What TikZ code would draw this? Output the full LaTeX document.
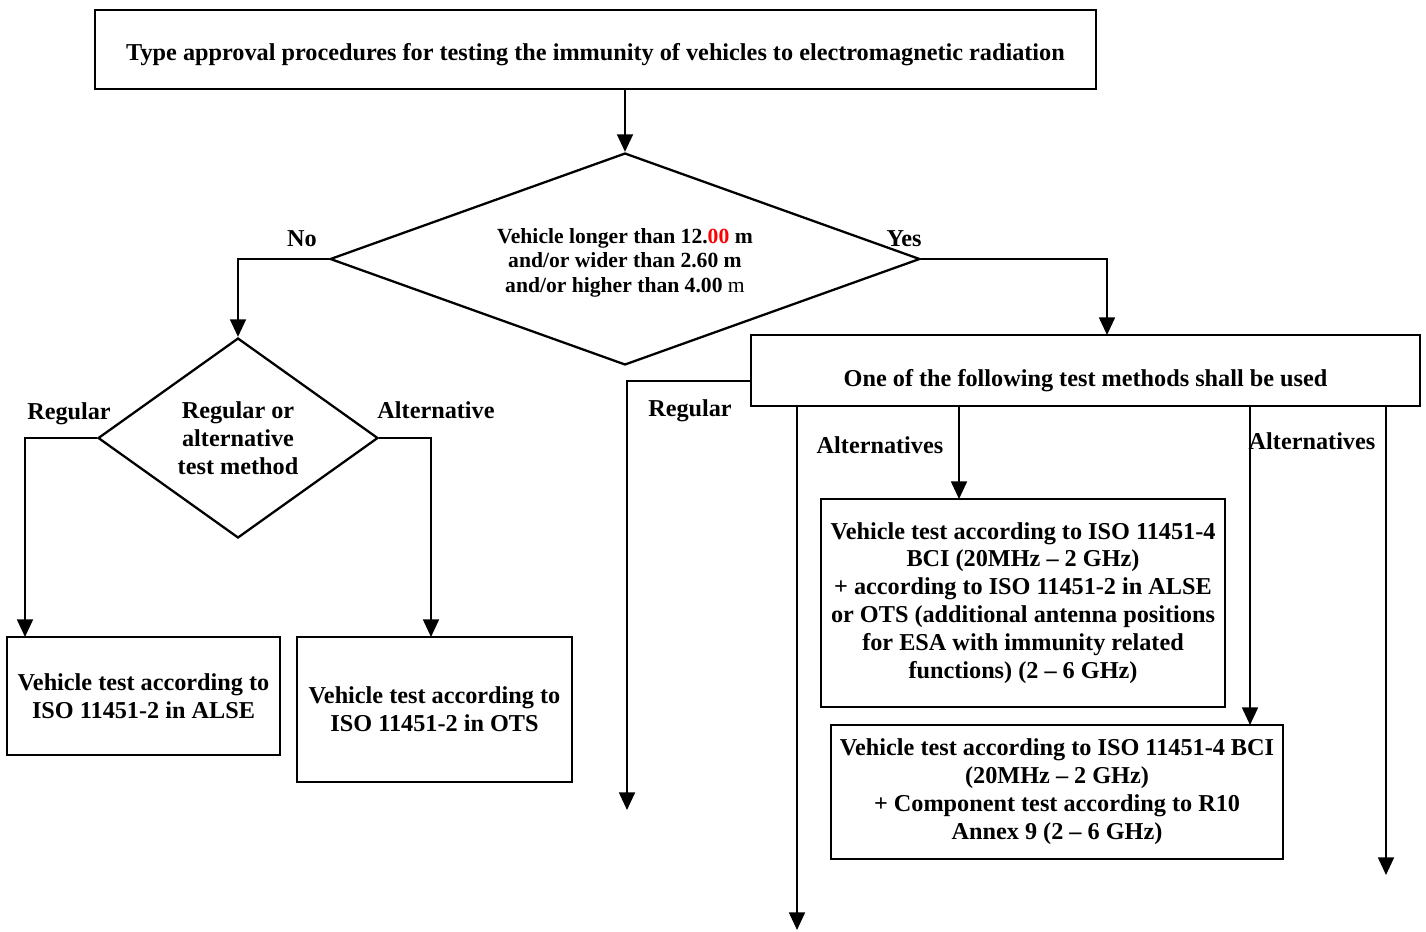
\documentclass[tikz,border=0pt]{standalone}
\usepackage{fontspec}
\setmainfont{Liberation Serif}
\usetikzlibrary{arrows.meta,shapes.geometric}
\begin{document}
\begin{tikzpicture}[x=0.02cm,y=-0.02cm,
            every node/.style = {font=\bfseries\fontsize{13.8}{15.9}\selectfont},
            box/.style = {draw, line width=1.3pt, align=center, inner sep=0pt},
            decision/.style = {draw, diamond, line width=1.3pt, align=center, inner sep=0pt},
            arr/.style = {line width=1.3pt, -{Triangle[length=10pt,width=9pt]}},
            lbl/.style = {inner sep=0pt}]
            \useasboundingbox (0,0) rectangle (1426,931);
            \node[box, minimum width=20.02cm, minimum height=1.58cm] (title) at (595.5,49.5) {};
            \node[lbl] (titletxt) at (595.5,55)
                {Type approval procedures for testing the immunity of vehicles to electromagnetic radiation};
            \node[decision, aspect=2.78, minimum width=11.8cm, minimum height=4.24cm,
                font=\bfseries\fontsize{12.3}{13.9}\selectfont] (size) at (625,259)
                {\\[-1pt]Vehicle longer than 12.\textcolor{red}{00} m\\ and/or wider than 2.60 m\\ and/or higher than 4.00 \mdseries m};
            \node[decision, minimum width=5.6cm, minimum height=4cm] (method) at (238,438)
                {Regular or\\ alternative\\ test method};
            \node[box, minimum width=5.46cm, minimum height=2.36cm] (alse) at (143.5,696)
                {Vehicle test according to\\ ISO 11451-2 in ALSE};
            \node[box, minimum width=5.5cm, minimum height=2.9cm] (ots) at (434.5,709.5)
                {Vehicle test according to\\ ISO 11451-2 in OTS};
            \node[box, minimum width=13.38cm, minimum height=1.42cm] (methods) at (1085.5,370.5) {};
            \node[lbl] (methodstxt) at (1085.5,381) {One of the following test methods shall be used};
            \node[box, minimum width=8.08cm, minimum height=4.16cm] (bci) at (1023,603)
                {Vehicle test according to ISO 11451-4\\ BCI (20MHz -- 2 GHz)\\ + according to ISO 11451-2 in ALSE\\
                 or OTS (additional antenna positions\\ for ESA with immunity related\\ functions) (2 -- 6 GHz)};
            \node[box, minimum width=9.04cm, minimum height=2.68cm] (comp) at (1057,792)
                {Vehicle test according to ISO 11451-4 BCI\\ (20MHz -- 2 GHz)\\ + Component test according to R10\\ Annex 9 (2 -- 6 GHz)};

            \coordinate (yesin) at (1107,335);
            \coordinate (alsein) at (25,637);
            \coordinate (otsin) at (431,637);
            \coordinate (regout) at (751,381);
            \coordinate (regend) at (627,810);
            \coordinate (alt1out) at (797,406);
            \coordinate (alt1end) at (797,930);
            \coordinate (bciout) at (959,406);
            \coordinate (bciin) at (959,499);
            \coordinate (compout) at (1250,406);
            \coordinate (compin) at (1250,725);
            \coordinate (alt2out) at (1386,406);
            \coordinate (alt2end) at (1386,875);

            \draw[arr] (size.north |- title.south) -- (size.north);
            \draw[arr] (size.west) -| (method.north);
            \draw[arr] (size.east) -| (yesin);
            \draw[arr] (method.west) -| (alsein);
            \draw[arr] (method.east) -| (otsin);
            \draw[arr] (regout) -| (regend);
            \draw[arr] (alt1out) -- (alt1end);
            \draw[arr] (bciout) -- (bciin);
            \draw[arr] (compout) -- (compin);
            \draw[arr] (alt2out) -- (alt2end);

            \node[lbl] (no) at (302,239) {No};
            \node[lbl] (yes) at (904,239) {Yes};
            \node[lbl] (reg1) at (69,414) {Regular};
            \node[lbl] (alt) at (436,410) {Alternative};
            \node[lbl] (reg2) at (690,411) {Regular};
            \node[lbl] (alts1) at (880,445) {Alternatives};
            \node[lbl] (alts2) at (1312,441) {Alternatives};
        \end{tikzpicture}
\end{document}
